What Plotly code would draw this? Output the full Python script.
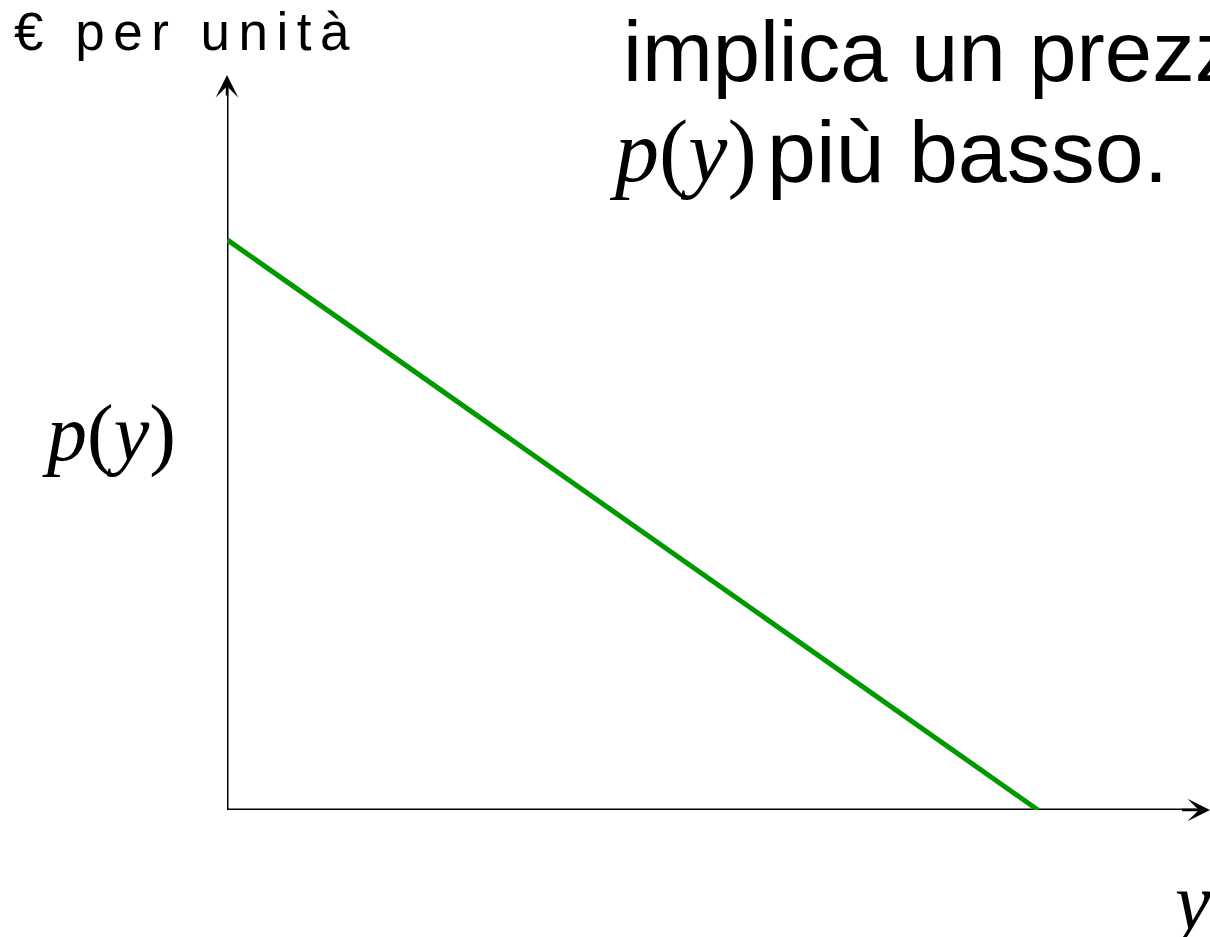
import plotly.graph_objects as go

# ---- data ----
quantity = [0.0, 8.25]      # y (quantity) values of the demand line
price = [7.76, 0.0]         # p(y) values of the demand line
axis_max_x = 10.0
axis_max_y = 10.0

W, H = 1210, 937
ML, MR, MT, MB = 227, 0, 75, 127
PW = W - ML - MR
PH = H - MT - MB


def px(xp):
    return (xp - ML) / PW


def py(yp):
    return (H - MB - yp) / PH


fig = go.Figure()
fig.add_trace(go.Scatter(
    x=quantity, y=price, mode="lines",
    line=dict(color="#009900", width=5),
    hoverinfo="skip", showlegend=False,
))

# axis lines
fig.add_shape(type="line", x0=0, y0=0, x1=axis_max_x - 0.05, y1=0, xref="x", yref="y",
              line=dict(color="black", width=3), layer="below")
fig.add_shape(type="line", x0=0, y0=0, x1=0, y1=axis_max_y - 0.05, xref="x", yref="y",
              line=dict(color="black", width=3), layer="below")

sans = "Liberation Sans, Arial, sans-serif"
serif = "Liberation Serif, Times New Roman, serif"

ann = []
# arrowheads
ann.append(dict(x=axis_max_x, y=0, ax=axis_max_x - 0.3, ay=0, xref="x", yref="y",
                axref="x", ayref="y", text="", showarrow=True, arrowhead=3,
                arrowsize=1.5, arrowwidth=2.5, arrowcolor="black"))
ann.append(dict(x=0, y=axis_max_y, ax=0, ay=axis_max_y - 0.3, xref="x", yref="y",
                axref="x", ayref="y", text="", showarrow=True, arrowhead=3,
                arrowsize=1.5, arrowwidth=2.5, arrowcolor="black"))

# texts
ann.append(dict(x=px(12), y=py(31), xref="paper", yref="paper", xanchor="left",
                yanchor="middle", showarrow=False,
                text='<span style="letter-spacing:8.5px">€ per unità</span>',
                font=dict(family=sans, size=53, color="black")))
ann.append(dict(x=px(621), y=py(51), xref="paper", yref="paper", xanchor="left",
                yanchor="middle", showarrow=False, text="implica un prezzo",
                font=dict(family=sans, size=85, color="black")))
ann.append(dict(x=px(607), y=py(152), xref="paper", yref="paper", xanchor="left",
                yanchor="middle", showarrow=False,
                text="<i>p</i>(<i>y</i>)",
                font=dict(family=serif, size=88, color="black")))
ann.append(dict(x=px(765), y=py(152), xref="paper", yref="paper", xanchor="left",
                yanchor="middle", showarrow=False,
                text="più basso.",
                font=dict(family=sans, size=88, color="black")))
ann.append(dict(x=px(109), y=py(433), xref="paper", yref="paper", xanchor="center",
                yanchor="middle", showarrow=False,
                text="<i>p</i>(<i>y</i>)",
                font=dict(family=serif, size=80, color="black")))
ann.append(dict(x=px(1166), y=py(902), xref="paper", yref="paper", xanchor="left",
                yanchor="middle", showarrow=False,
                text="<i>y</i>",
                font=dict(family=serif, size=80, color="black")))

fig.update_layout(
    width=W, height=H,
    margin=dict(l=ML, r=MR, t=MT, b=MB, pad=0),
    paper_bgcolor="white", plot_bgcolor="white",
    xaxis=dict(range=[0, axis_max_x], visible=False, fixedrange=True),
    yaxis=dict(range=[0, axis_max_y], visible=False, fixedrange=True),
    annotations=ann,
    showlegend=False,
)

fig.write_html(
    "out.html",
    config={"displayModeBar": False},
    post_script="document.body.style.margin='0';document.body.style.overflow='hidden';",
)
